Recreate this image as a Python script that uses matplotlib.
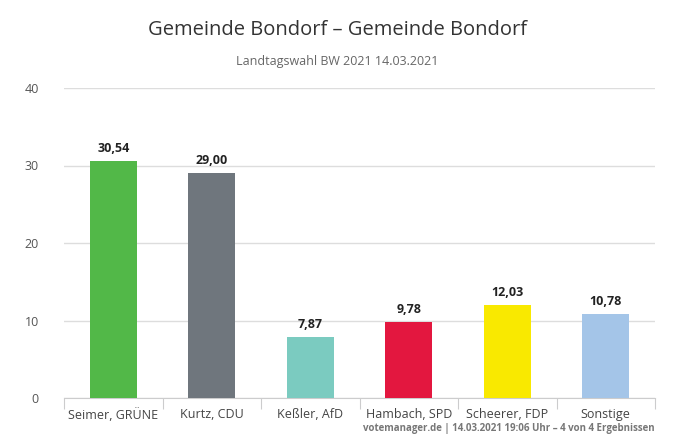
import matplotlib
matplotlib.use("Agg")
import matplotlib.pyplot as plt

plt.rcParams['font.family'] = ['Open Sans', 'DejaVu Sans']

kandidaten = ["Seimer, GRÜNE", "Kurtz, CDU", "Keßler, AfD", "Hambach, SPD", "Scheerer, FDP", "Sonstige"]
werte = [30.54, 29.00, 7.87, 9.78, 12.03, 10.78]
farben = ["#52b848", "#6f767d", "#7bcbc0", "#e3173f", "#f9e900", "#a4c5e8"]
yticks = [0, 10, 20, 30, 40]

fig = plt.figure(figsize=(6.75, 4.46), dpi=100)
ax = fig.add_axes([64/675, 1-398/446, (655-64)/675, (398-88)/446])

x = list(range(len(kandidaten)))
ax.bar(x, werte, width=0.48, color=farben, zorder=3)
for xi, w in zip(x, werte):
    ax.text(xi, w + 0.8, f"{w:.2f}".replace(".", ","), ha="center", va="bottom",
            fontsize=9, fontweight="bold", color="#222222")

ax.set_xlim(-0.5, len(kandidaten) - 0.5)
ax.set_ylim(0, 40)
ax.set_yticks(yticks)
ax.set_yticklabels([str(t) for t in yticks], color="#555555", fontsize=9)
ax.grid(axis="y", color="#dddddd", linewidth=1, zorder=0)
for s in ["top", "right", "left"]:
    ax.spines[s].set_visible(False)
ax.spines["bottom"].set_color("#cccccd")
ax.tick_params(axis="y", length=0, pad=18)
ax.set_xticks([i - 0.5 for i in range(len(kandidaten) + 1)], minor=False)
ax.set_xticklabels([])
ax.tick_params(axis="x", length=8, color="#cccccd", direction="out")
ax.set_xticks(x, minor=True)
ax.set_xticklabels(kandidaten, minor=True, fontsize=9, color="#444444")
ax.tick_params(axis="x", which="minor", length=0, pad=7)

fig.text(0.5, 1-30/446, "Gemeinde Bondorf – Gemeinde Bondorf", ha="center", va="center",
         fontsize=14.5, color="#333333")
fig.text(0.5, 1-62/446, "Landtagswahl BW 2021 14.03.2021", ha="center", va="center",
         fontsize=9, color="#666666")
fig.text(655/675, 1-429/446, "votemanager.de | 14.03.2021 19:06 Uhr – 4 von 4 Ergebnissen",
         ha="right", va="center", fontsize=7, fontweight="bold", color="#777777")

fig.savefig("out.png", dpi=100)
